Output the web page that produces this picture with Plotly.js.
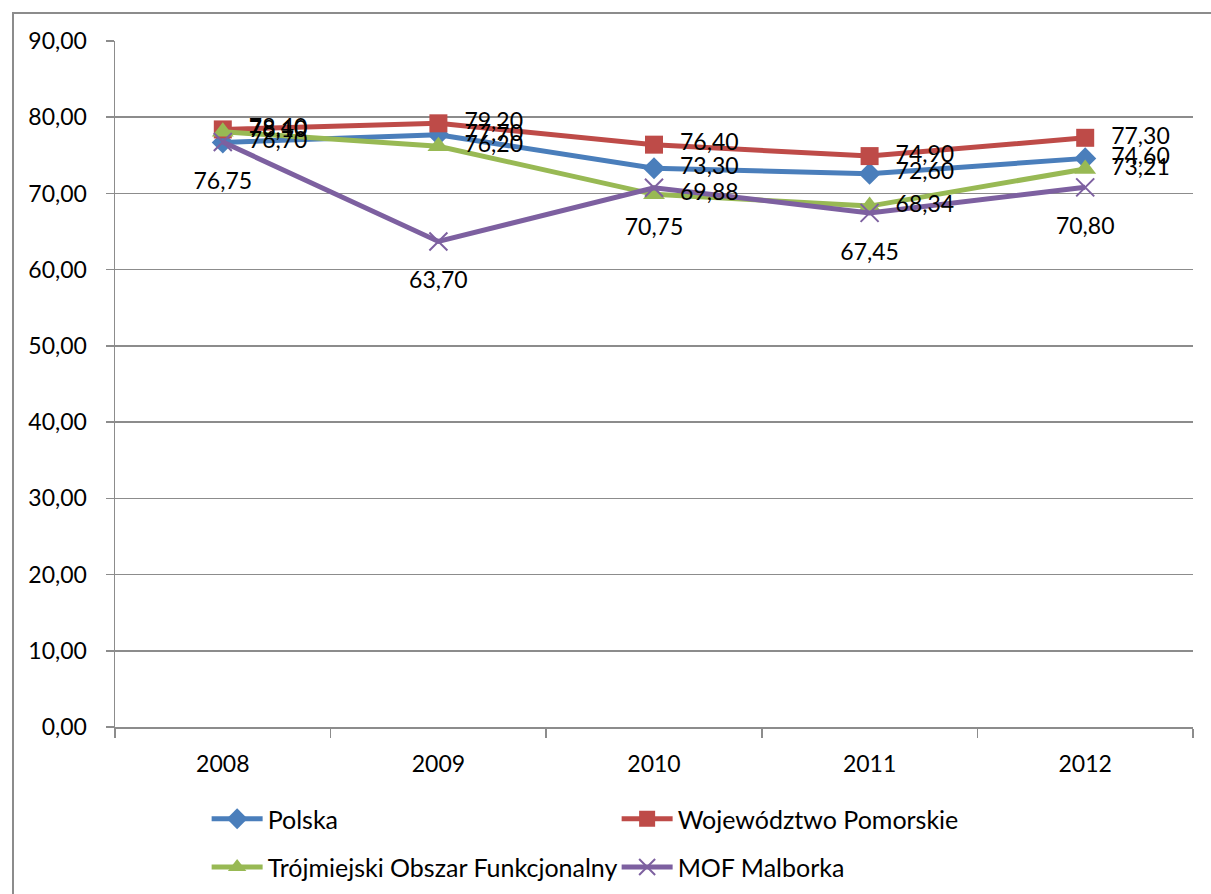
<!DOCTYPE html>
<html>
<head>
<meta charset="utf-8">
<script src="https://cdn.plot.ly/plotly-3.0.1.min.js"></script>
<style>
  html, body { margin: 0; padding: 0; background: #fff; overflow: hidden; }
  #chart { position: absolute; left: 0; top: 0; width: 1211px; height: 894px; }
  #frame { position: absolute; left: 12px; top: 12px; width: 1400px; height: 1100px;
           border: 2px solid #8c8c8c; pointer-events: none; }
</style>
</head>
<body>
<div id="chart"></div>
<div id="frame"></div>
<script>
const years = ['2008', '2009', '2010', '2011', '2012'];
const polska = [76.70, 77.70, 73.30, 72.60, 74.60];
const pomorskie = [78.40, 79.20, 76.40, 74.90, 77.30];
const trojmiejski = [78.10, 76.20, 69.88, 68.34, 73.21];
const malbork = [76.75, 63.70, 70.75, 67.45, 70.80];
const yTicks = [0, 10, 20, 30, 40, 50, 60, 70, 80, 90];

const FONT = 'Lato, "Open Sans", sans-serif';
const fmt = v => v.toFixed(2).replace('.', ',');

const series = [
  {name: 'Polska', y: polska, color: '#4A7EBB', symbol: 'diamond', size: 17, legend: 'legend', below: false},
  {name: 'Województwo Pomorskie', y: pomorskie, color: '#BE4B48', symbol: 'square', size: 18, legend: 'legend', below: false},
  {name: 'Trójmiejski Obszar Funkcjonalny', y: trojmiejski, color: '#98B954', symbol: 'triangle-up', size: 19, legend: 'legend2', below: false},
  {name: 'MOF Malborka', y: malbork, color: '#7D60A0', symbol: 'x-thin', size: 18, legend: 'legend2', below: true}
];

const traces = series.map(s => ({
  type: 'scatter',
  mode: 'lines+markers',
  name: s.name,
  x: years,
  y: s.y,
  legend: s.legend,
  line: {color: s.color, width: 5},
  marker: s.symbol === 'x-thin'
    ? {symbol: s.symbol, size: s.size, color: s.color, line: {color: s.color, width: 2}}
    : {symbol: s.symbol, size: s.size, color: s.color, line: {width: 0}},
  hoverinfo: 'x+y+name'
}));

// data labels: invisible markers used only to offset the text from each point
const labelTraces = series.map(s => ({
  type: 'scatter',
  mode: 'markers+text',
  x: years,
  y: s.y,
  text: s.y.map(fmt),
  textposition: s.below ? 'bottom center' : 'middle right',
  textfont: {family: FONT, size: 23, color: '#000'},
  marker: {size: s.below ? 46 : 40, opacity: 0, color: s.color},
  showlegend: false,
  hoverinfo: 'skip',
  cliponaxis: false
}));

const layout = {
  width: 1211, height: 894,
  margin: {l: 115, r: 18, t: 41, b: 167, autoexpand: false},
  paper_bgcolor: 'rgba(0,0,0,0)',
  plot_bgcolor: '#fff',
  font: {family: FONT, size: 23, color: '#000'},
  separators: ',.',
  showlegend: true,
  xaxis: {
    type: 'category',
    range: [-0.5, 4.5],
    tickson: 'boundaries',
    ticks: 'outside', ticklen: 9, tickwidth: 1.5, tickcolor: '#8c8c8c',
    showline: true, linecolor: '#8c8c8c', linewidth: 1.5,
    showgrid: false, zeroline: false,
    ticklabelstandoff: 16,
    tickfont: {family: FONT, size: 23, color: '#000'}
  },
  yaxis: {
    range: [0, 90],
    tickmode: 'array', tickvals: yTicks, ticktext: yTicks.map(fmt),
    ticks: 'outside', ticklen: 8, tickwidth: 1.5, tickcolor: '#8c8c8c',
    showline: true, linecolor: '#8c8c8c', linewidth: 1.5,
    showgrid: true, gridcolor: '#8c8c8c', gridwidth: 1.5,
    zeroline: false,
    ticklabelstandoff: 14,
    tickfont: {family: FONT, size: 23, color: '#000'}
  },
  legend: {
    orientation: 'h', x: 0.085, xanchor: 'left', y: -0.1006, yanchor: 'top',
    entrywidth: 344, entrywidthmode: 'pixels', itemwidth: 51,
    font: {family: FONT, size: 25, color: '#000'}, bgcolor: 'rgba(0,0,0,0)'
  },
  legend2: {
    orientation: 'h', x: 0.085, xanchor: 'left', y: -0.171, yanchor: 'top',
    entrywidth: 344, entrywidthmode: 'pixels', itemwidth: 51,
    font: {family: FONT, size: 25, color: '#000'}, bgcolor: 'rgba(0,0,0,0)'
  }
};

Plotly.newPlot('chart', traces.concat(labelTraces), layout, {displayModeBar: false, staticPlot: true});
</script>
</body>
</html>
